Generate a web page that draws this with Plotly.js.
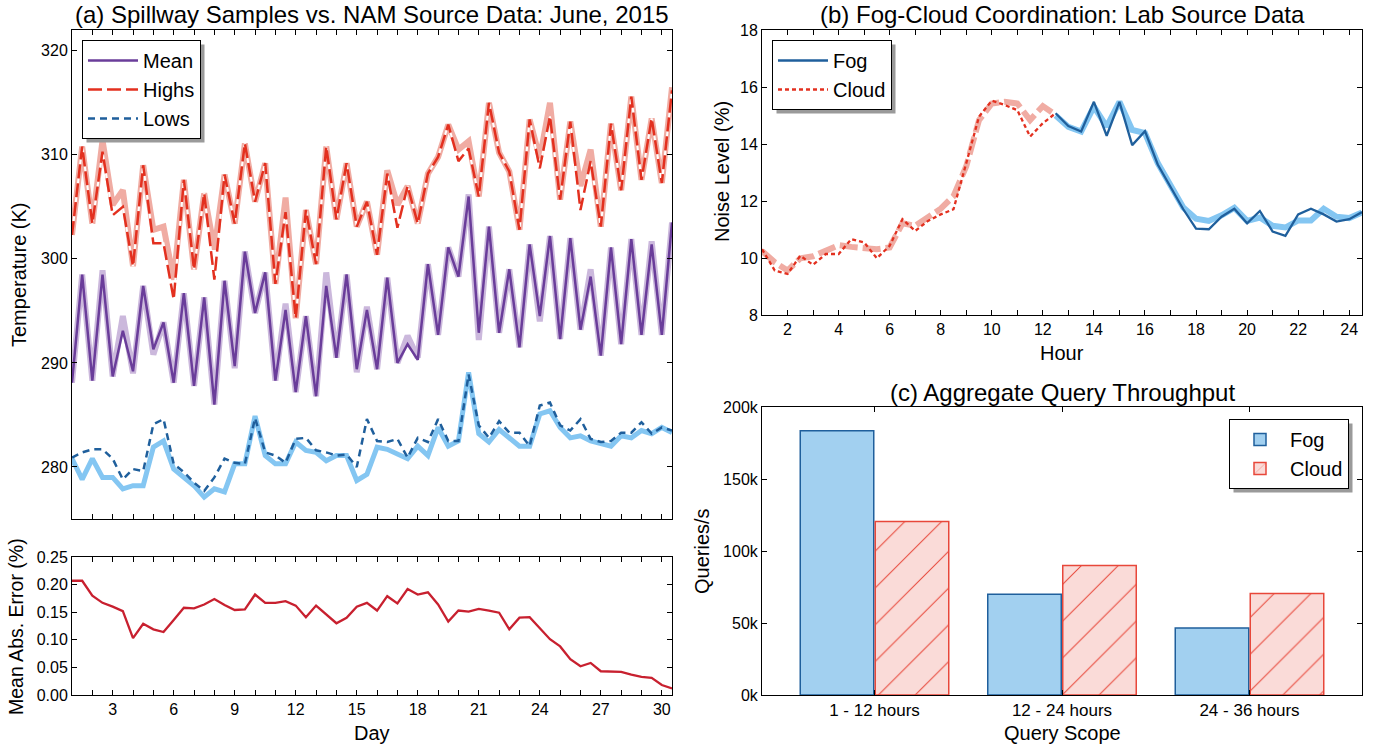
<!DOCTYPE html>
<html>
<head>
<meta charset="utf-8">
<script src="https://cdn.plot.ly/plotly-3.0.1.min.js"></script>
<style>html,body{margin:0;padding:0;background:#fff;}#chart{width:1374px;height:745px;}</style>
</head>
<body>
<div id="chart"></div>
<script>
// ---------- data ----------
const days = [1,1.5,2,2.5,3,3.5,4,4.5,5,5.5,6,6.5,7,7.5,8,8.5,9,9.5,10,10.5,11,11.5,12,12.5,13,13.5,14,14.5,15,15.5,
  16,16.5,17,17.5,18,18.5,19,19.5,20,20.5,21,21.5,22,22.5,23,23.5,24,24.5,25,25.5,26,26.5,27,27.5,28,28.5,29,29.5,30,30.5];

const meanSim = [288.1,298.5,288.3,298.5,288.7,293.1,289.2,297.4,291.3,293.9,
  288.1,296.7,287.8,296.3,286.0,297.9,289.7,300.7,294.8,298.7,
  288.3,295.1,287.2,294.5,286.8,297.4,290.5,298.5,289.4,295.1,
  289.4,298.2,290.0,291.8,290.3,299.5,292.7,301.1,298.3,306.0,
  292.9,303.1,292.9,299.0,291.5,301.4,294.5,302.2,292.3,302.0,
  293.2,298.3,290.7,301.1,291.8,301.9,292.7,301.4,292.7,303.5];
const meanSrc = [288.1,298.5,288.3,298.9,288.7,294.5,289.0,297.4,290.8,293.9,
  288.1,296.7,287.8,296.3,286.0,297.9,289.5,300.7,294.8,298.7,
  288.3,295.7,287.2,294.5,286.8,298.7,290.5,298.5,289.1,295.4,
  289.4,298.2,290.0,292.6,290.5,299.5,292.7,301.1,298.3,306.2,
  292.2,303.1,292.9,299.0,291.5,301.4,294.0,302.2,292.3,302.0,
  293.2,299.0,290.7,301.1,291.8,301.9,292.7,301.7,292.7,303.5];

const highsSim = [302.3,310.8,303.4,310.3,304.2,305.0,299.3,309.0,301.5,301.5,
  296.1,307.6,299.0,306.3,298.0,308.1,303.4,311.1,305.5,309.2,
  297.6,304.5,294.3,304.7,299.5,310.8,303.8,309.2,303.1,305.5,
  300.4,308.2,303.0,307.0,303.4,308.2,309.8,312.9,309.4,310.6,
  306.0,315.0,310.2,308.4,302.8,313.4,308.7,313.7,305.7,313.2,
  304.7,309.4,303.1,313.0,306.6,315.6,307.6,313.5,307.3,316.2];
const highsSrc = [302.3,310.8,303.4,311.4,305.2,306.6,299.3,309.0,302.8,303.1,
  298.0,307.6,299.0,306.3,300.9,308.1,303.4,311.1,305.5,309.2,
  297.6,305.9,294.3,304.7,299.5,310.8,303.8,309.2,303.1,305.5,
  300.4,308.5,305.2,307.0,303.4,308.2,309.8,312.9,310.5,311.3,
  306.0,315.0,310.2,308.4,302.8,313.4,309.7,315.0,305.7,313.2,
  307.0,310.5,303.1,313.0,306.6,315.6,307.6,313.5,307.3,316.5];

const lowsSim = [280.9,281.4,281.7,281.7,280.8,278.8,279.8,279.6,284.1,284.6,
  280.3,279.5,278.5,277.7,279.0,280.8,280.4,280.3,284.7,281.4,
  281.1,280.4,282.7,282.8,281.6,281.4,281.1,281.2,280.0,284.6,
  282.5,282.4,282.7,280.9,282.8,282.4,284.6,282.5,282.5,288.9,
  284.0,282.8,284.4,283.3,283.3,282.0,285.9,286.2,284.0,283.5,
  284.6,282.7,282.4,282.5,283.3,283.3,284.3,283.2,283.8,283.5];
const lowsSrc = [280.8,278.8,280.8,279.0,279.0,277.9,278.2,278.2,281.9,282.5,
  279.8,279.0,278.2,277.1,277.9,277.6,280.3,280.3,284.9,281.1,
  280.3,280.3,282.4,281.6,281.4,280.6,281.1,281.1,278.7,279.3,
  281.9,281.7,281.2,280.8,282.0,281.1,283.8,282.0,282.5,289.1,
  283.2,282.4,283.6,282.8,282.0,282.0,285.1,285.4,283.8,282.8,
  283.0,282.5,282.2,282.0,283.0,282.8,283.5,283.2,283.8,283.3];

const maeValues = [0.207,0.207,0.180,0.167,0.160,0.152,0.103,0.129,0.119,0.114,
  0.136,0.158,0.157,0.164,0.174,0.163,0.154,0.155,0.182,0.167,
  0.167,0.170,0.162,0.141,0.162,0.146,0.130,0.140,0.160,0.167,
  0.153,0.179,0.166,0.192,0.182,0.186,0.164,0.133,0.153,0.151,
  0.156,0.153,0.149,0.119,0.140,0.141,0.121,0.101,0.088,0.065,
  0.052,0.058,0.043,0.042,0.042,0.037,0.033,0.031,0.018,0.012];

const cloudHours = [1,1.5,2,2.5,3,3.5,4,4.5,5,5.5,6,6.5,7,7.5,8,8.5,9,9.5,10,10.5,11,11.5,12,12.5];
const cloudNoise = [10.31,9.56,9.44,10.08,9.76,10.14,10.14,10.66,10.55,9.99,10.43,11.36,
  10.95,11.30,11.53,11.71,13.33,14.96,15.52,15.37,15.19,14.26,14.73,15.08];
const cloudNoiseSrc = [10.25,9.85,9.56,9.99,10.06,10.25,10.45,10.39,10.34,10.31,10.37,11.22,
  11.13,11.44,11.73,12.17,13.22,14.84,15.42,15.48,15.42,14.84,15.33,15.02];

const fogHours = [12.5,13,13.5,14,14.5,15,15.5,16,16.5,17,17.5,18,18.5,19,19.5,20,20.5,21,21.5,22,22.5,23,23.5,24,24.5];
const fogNoise = [15.08,14.63,14.44,15.48,14.29,15.48,13.96,14.45,13.28,12.52,11.71,11.03,11.01,
  11.45,11.73,11.22,11.65,10.93,10.78,11.53,11.73,11.53,11.28,11.36,11.61];
const fogNoiseSrc = [15.0,14.6,14.44,15.31,14.61,15.48,14.49,14.38,13.33,12.58,11.77,11.38,11.30,
  11.5,11.76,11.30,11.42,11.13,11.07,11.32,11.32,11.73,11.45,11.40,11.6];

const scopes = ['1 - 12 hours','12 - 24 hours','24 - 36 hours'];
const fogThroughputK = [183.5, 70, 46.5];
const cloudThroughputK = [120.5, 90, 70.5];

// ---------- styling helpers ----------
const W = 1374, H = 745;
const px = x => x / W;
const py = y => 1 - y / H;
const FONT = 'Liberation Sans, Arial, Helvetica, sans-serif';

const C = {
  purple: '#6a3d9a', purpleLight: '#cbb8dc',
  red: '#e3301f', redLight: '#f0aca3',
  blue: '#1f5f9c', blueLight: '#84c6f2',
  mae: '#c8202f'
};

const traces = [
  {x: days, y: meanSrc, xaxis: 'x', yaxis: 'y', mode: 'lines', line: {color: C.purpleLight, width: 6}, showlegend: false, hoverinfo: 'skip'},
  {x: days, y: highsSrc, xaxis: 'x', yaxis: 'y', mode: 'lines', line: {color: C.redLight, width: 6}, showlegend: false, hoverinfo: 'skip'},
  {x: days, y: lowsSrc, xaxis: 'x', yaxis: 'y', mode: 'lines', line: {color: C.blueLight, width: 5}, showlegend: false, hoverinfo: 'skip'},
  // white gaps between the Highs dashes
  {x: days, y: highsSim, xaxis: 'x', yaxis: 'y', mode: 'lines', line: {color: '#ffffff', width: 2, dash: '0px,14px,5px,0px'}, showlegend: false, hoverinfo: 'skip'},
  {x: days, y: meanSim, xaxis: 'x', yaxis: 'y', mode: 'lines', name: 'Mean', line: {color: C.purple, width: 2.5}, legend: 'legend'},
  {x: days, y: highsSim, xaxis: 'x', yaxis: 'y', mode: 'lines', name: 'Highs', line: {color: C.red, width: 2.5, dash: '14px,5px'}, legend: 'legend'},
  {x: days, y: lowsSim, xaxis: 'x', yaxis: 'y', mode: 'lines', name: 'Lows', line: {color: C.blue, width: 2.5, dash: '7px,5px'}, legend: 'legend'},
  {x: days, y: maeValues, xaxis: 'x2', yaxis: 'y2', mode: 'lines', line: {color: C.mae, width: 2.3}, showlegend: false},
  {x: cloudHours, y: cloudNoiseSrc, xaxis: 'x3', yaxis: 'y3', mode: 'lines', line: {color: C.redLight, width: 6, dash: '18px,5px'}, showlegend: false, hoverinfo: 'skip'},
  {x: fogHours, y: fogNoiseSrc, xaxis: 'x3', yaxis: 'y3', mode: 'lines', line: {color: C.blueLight, width: 6}, showlegend: false, hoverinfo: 'skip'},
  {x: fogHours, y: fogNoise, xaxis: 'x3', yaxis: 'y3', mode: 'lines', name: 'Fog', line: {color: C.blue, width: 2.3}, legend: 'legend2'},
  {x: cloudHours, y: cloudNoise, xaxis: 'x3', yaxis: 'y3', mode: 'lines', name: 'Cloud', line: {color: C.red, width: 2.3, dash: '4px,3px'}, legend: 'legend2'},
  {type: 'bar', x: scopes, y: fogThroughputK, xaxis: 'x4', yaxis: 'y4', name: 'Fog', legend: 'legend3',
   marker: {color: '#a2d0f0', line: {color: '#1f5f9c', width: 1.5}}},
  {type: 'bar', x: scopes, y: cloudThroughputK, xaxis: 'x4', yaxis: 'y4', name: 'Cloud', legend: 'legend3',
   marker: {color: '#fadbd8', line: {color: '#e8473a', width: 1.5},
            pattern: {shape: '/', fgcolor: '#e8473a', bgcolor: '#fadbd8', size: 26, solidity: 0.04}}}
];

const axBase = {
  showline: true, linecolor: '#000', linewidth: 1, mirror: 'ticks',
  ticks: 'inside', ticklen: 5, tickcolor: '#000', tickwidth: 1,
  showgrid: false, zeroline: false,
  tickfont: {family: FONT, size: 16, color: '#000'}
};

const legendBase = {
  bgcolor: '#fff', bordercolor: '#000', borderwidth: 1,
  font: {family: FONT, size: 20, color: '#000'},
  xanchor: 'left', yanchor: 'top', tracegroupgap: 0, itemwidth: 50
};

function ann(text, x, y, size, rot) {
  return {text: text, x: px(x), y: py(y), xref: 'paper', yref: 'paper', showarrow: false,
          xanchor: 'center', yanchor: 'middle', textangle: rot || 0,
          font: {family: FONT, size: size, color: '#000'}};
}

const layout = {
  width: W, height: H,
  margin: {l: 0, r: 0, t: 0, b: 0},
  paper_bgcolor: '#fff', plot_bgcolor: '#fff',
  font: {family: FONT, color: '#000'},
  xaxis: Object.assign({}, axBase, {domain: [px(72), px(672)], anchor: 'y', range: [1, 30.5],
    tick0: 0, dtick: 3, showticklabels: false, minor: {dtick: 1, tick0: 0, ticks: 'inside', ticklen: 5, tickcolor: '#000'}}),
  yaxis: Object.assign({}, axBase, {domain: [py(519), py(30)], anchor: 'x', range: [275, 322], tick0: 0, dtick: 10}),
  xaxis2: Object.assign({}, axBase, {domain: [px(72), px(672)], anchor: 'y2', range: [1, 30.5],
    tick0: 0, dtick: 3, minor: {dtick: 1, tick0: 0, ticks: 'inside', ticklen: 5, tickcolor: '#000'}}),
  yaxis2: Object.assign({}, axBase, {domain: [py(695), py(557)], anchor: 'x2', range: [0, 0.25], tick0: 0, dtick: 0.05, tickformat: '.2f'}),
  xaxis3: Object.assign({}, axBase, {domain: [px(762), px(1362)], anchor: 'y3', range: [1, 24.5],
    tick0: 0, dtick: 2, minor: {dtick: 1, tick0: 0, ticks: 'inside', ticklen: 5, tickcolor: '#000'}}),
  yaxis3: Object.assign({}, axBase, {domain: [py(315), py(30)], anchor: 'x3', range: [8, 18], tick0: 0, dtick: 2}),
  xaxis4: Object.assign({}, axBase, {domain: [px(762), px(1362)], anchor: 'y4', type: 'category', range: [-0.6, 2.6],
    tickfont: {family: FONT, size: 17, color: '#000'}}),
  yaxis4: Object.assign({}, axBase, {domain: [py(695), py(407)], anchor: 'x4', range: [0, 200], tick0: 0, dtick: 50, ticksuffix: 'k'}),
  barmode: 'group', bargap: 0.2, bargroupgap: 0.02,
  legend: Object.assign({}, legendBase, {x: px(82), y: py(40)}),
  legend2: Object.assign({}, legendBase, {x: px(772), y: py(40)}),
  legend3: Object.assign({}, legendBase, {x: px(1229), y: py(419)}),
  annotations: [
    ann('(a) Spillway Samples vs. NAM Source Data: June, 2015', 372, 15, 24),
    ann('(b) Fog-Cloud Coordination: Lab Source Data', 1062, 15, 24),
    ann('(c) Aggregate Query Throughput', 1062, 392, 24),
    ann('Temperature (K)', 19, 275, 20, -90),
    ann('Mean Abs. Error (%)', 16, 627, 19.5, -90),
    ann('Day', 372, 733, 20),
    ann('Noise Level (%)', 722, 172, 20, -90),
    ann('Hour', 1062, 353, 20),
    ann('Queries/s', 702, 551, 20, -90),
    ann('Query Scope', 1062, 733, 20)
  ]
};

const gd = document.getElementById('chart');
Plotly.newPlot(gd, traces, layout, {displayModeBar: false, staticPlot: true}).then(function () {
  // drop shadows sized to the legend boxes that were actually drawn
  const base = gd.getBoundingClientRect();
  const shapes = [];
  gd.querySelectorAll('.infolayer > g').forEach(function (g) {
    const cls = g.getAttribute('class') || '';
    if (!/^legend/.test(cls)) return;
    const bg = g.querySelector('rect.bg');
    if (!bg) return;
    const r = bg.getBoundingClientRect();
    const x0 = r.left - base.left, y0 = r.top - base.top;
    shapes.push({type: 'rect', xref: 'paper', yref: 'paper',
      x0: px(x0 + 4), x1: px(x0 + r.width + 4), y0: py(y0 + r.height + 4), y1: py(y0 + 4),
      fillcolor: '#9a9a9a', line: {width: 0}, layer: 'above'});
  });
  return Plotly.relayout(gd, {shapes: shapes});
});
</script>
</body>
</html>
